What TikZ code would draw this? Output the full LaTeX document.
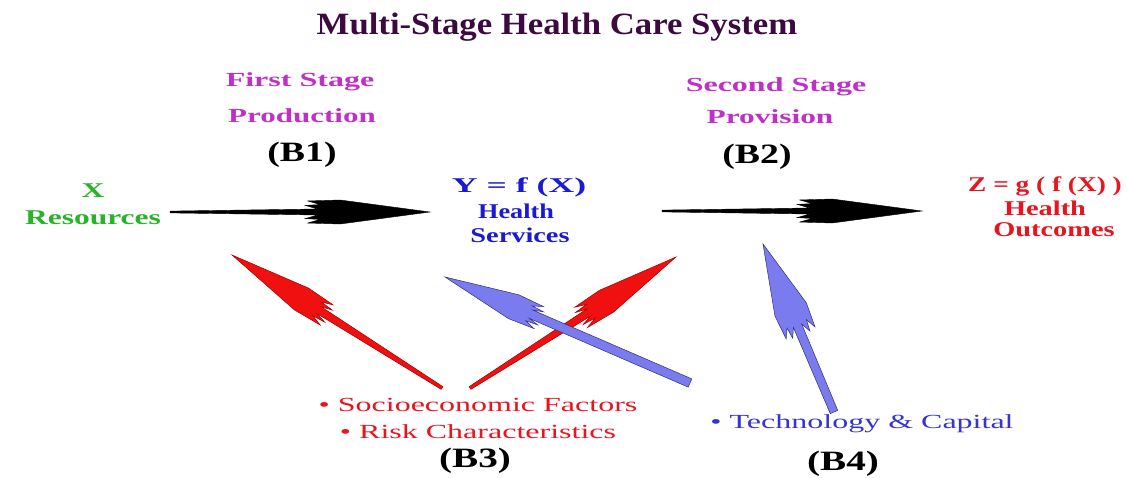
\documentclass[tikz,border=0pt]{standalone}
\usepackage{fontspec}
\usepackage{graphicx}
\setmainfont{Liberation Serif}
\usetikzlibrary{calc}
\definecolor{titlec}{HTML}{3C0A40}
\definecolor{magc}{HTML}{C030C8}
\definecolor{greenc}{HTML}{28B428}
\definecolor{bluet}{HTML}{1A1AD2}
\definecolor{redt}{HTML}{E8141E}
\definecolor{redf}{HTML}{F01010}
\definecolor{redo}{HTML}{A00000}
\definecolor{bluef}{HTML}{7B7BF0}
\definecolor{blueo}{HTML}{303070}
\definecolor{bluet2}{HTML}{3434D4}
\newcommand\sx[2]{\scalebox{#1}[1]{#2}}
\tikzset{
  title/.style={font=\fontsize{31}{36}\selectfont\bfseries, text=titlec, inner sep=0pt},
  stage/.style={font=\fontsize{20}{24}\selectfont\bfseries, text=magc, inner sep=0pt},
  blabel/.style={font=\fontsize{28}{32}\selectfont\bfseries, text=black, inner sep=0pt},
  varg/.style={font=\fontsize{21}{24}\selectfont\bfseries, text=greenc, inner sep=0pt},
  varb/.style={font=\fontsize{21}{24}\selectfont\bfseries, text=bluet, inner sep=0pt},
  varr/.style={font=\fontsize{21}{24}\selectfont\bfseries, text=redt, inner sep=0pt},
  factr/.style={font=\fontsize{20}{24}\selectfont, text=redt, inner sep=0pt},
  factb/.style={font=\fontsize{20}{24}\selectfont, text=bluet2, inner sep=0pt},
  blackspear/.style={fill=black, draw=black, line width=0.4pt},
  redspear/.style={fill=redf, draw=redo, line width=0.5pt},
  bluespear/.style={fill=bluef, draw=blueo, line width=0.5pt},
}
% #1 tail, #2 tip, #3 style, #4 head start fraction, #5 head half width, #6 shaft half width, #7 tail factor
\newcommand\spear[7]{%
  \pgfmathsetmacro\spH{#4}\pgfmathsetmacro\spD{1-#4}%
  \pgfmathsetmacro\spUa{\spH+0.10*\spD}%
  \pgfmathsetmacro\spUb{\spH}%
  \pgfmathsetmacro\spUc{\spH+0.12*\spD}%
  \pgfmathsetmacro\spUd{\spH+0.02*\spD}%
  \pgfmathsetmacro\spUe{\spH+0.28*\spD}%
  \pgfmathsetlengthmacro\spVt{#7*#6}%
  \pgfmathsetlengthmacro\spVs{#6}%
  \pgfmathsetlengthmacro\spVb{0.55*#5}%
  \pgfmathsetlengthmacro\spVc{0.62*#5}%
  \pgfmathsetlengthmacro\spVd{0.92*#5}%
  \pgfmathsetlengthmacro\spVe{#5}%
  \filldraw[#3]
    ($(#1)!\spVt!90:(#2)$)
    -- ($(#1)!\spUa!(#2)!\spVs!90:(#2)$)
    -- ($(#1)!\spUb!(#2)!\spVb!90:(#2)$)
    -- ($(#1)!\spUc!(#2)!\spVc!90:(#2)$)
    -- ($(#1)!\spUd!(#2)!\spVd!90:(#2)$)
    -- ($(#1)!\spUe!(#2)!\spVe!90:(#2)$)
    -- (#2)
    -- ($(#1)!\spUe!(#2)!\spVe!-90:(#2)$)
    -- ($(#1)!\spUd!(#2)!\spVd!-90:(#2)$)
    -- ($(#1)!\spUc!(#2)!\spVc!-90:(#2)$)
    -- ($(#1)!\spUb!(#2)!\spVb!-90:(#2)$)
    -- ($(#1)!\spUa!(#2)!\spVs!-90:(#2)$)
    -- ($(#1)!\spVt!-90:(#2)$)
    -- cycle;
}
\begin{document}
\begin{tikzpicture}[x=1pt,y=-1pt]
\fill[white] (0,0) rectangle (1135,477);
\useasboundingbox (0,0) rectangle (1135,477);

\node[title] (title) at (557,27) {\sx{1.12}{Multi-Stage Health Care System}};

\node[stage] (s1a) at (300,82) {\sx{1.6}{First Stage}};
\node[stage] (s1b) at (302,116) {\sx{1.55}{Production}};
\node[blabel] (b1) at (302,155) {\sx{1.35}{(B1)}};
\node[stage] (s2a) at (776,87) {\sx{1.6}{Second Stage}};
\node[stage] (s2b) at (770,117) {\sx{1.57}{Provision}};
\node[blabel] (b2) at (757,157) {\sx{1.35}{(B2)}};

\node[varg] (xa) at (93,191) {\sx{1.5}{X}};
\node[varg] (xb) at (93,218) {\sx{1.5}{Resources}};
\node[varb] (ya) at (519,187) {\sx{1.7}{Y = f (X)}};
\node[varb] (yb) at (516,211) {\sx{1.25}{Health}};
\node[varb] (yc) at (520,235) {\sx{1.35}{Services}};
\node[varr] (za) at (1045,186) {\sx{1.3}{Z = g ( f (X) )}};
\node[varr] (zb) at (1045,208) {\sx{1.35}{Health}};
\node[varr] (zc) at (1054,230) {\sx{1.35}{Outcomes}};

\node[factr] (f1) at (478,405) {\sx{1.6}{• Socioeconomic Factors}};
\node[factr] (f2) at (478,432) {\sx{1.6}{• Risk Characteristics}};
\node[blabel] (b3) at (475,461) {\sx{1.4}{(B3)}};
\node[factb] (f3) at (862,424) {\sx{1.6}{• Technology \& Capital}};
\node[blabel] (b4) at (843,464) {\sx{1.4}{(B4)}};

% arrow end points
\coordinate (a1t) at (170,212);
\coordinate (a1h) at (430,212);
\coordinate (a2t) at (662,211);
\coordinate (a2h) at (922,211);
\coordinate (rAt) at (442,388);
\coordinate (rAh) at (232,255);
\coordinate (rBt) at (470,388);
\coordinate (rBh) at (676,257);
\coordinate (bCt) at (690,383);
\coordinate (bCh) at (445,277);
\coordinate (bDt) at (834,412);
\coordinate (bDh) at (763,244);

\spear{a1t}{a1h}{blackspear}{0.52}{12}{3}{0.3}
\spear{a2t}{a2h}{blackspear}{0.52}{12}{3}{0.3}
\spear{rAt}{rAh}{redspear}{0.54}{13}{4}{0.4}
\spear{rBt}{rBh}{redspear}{0.53}{13}{4}{0.4}
\spear{bCt}{bCh}{bluespear}{0.61}{13}{4.5}{1}
\spear{bDt}{bDh}{bluespear}{0.46}{17}{4.5}{0.9}
\end{tikzpicture}
\end{document}
